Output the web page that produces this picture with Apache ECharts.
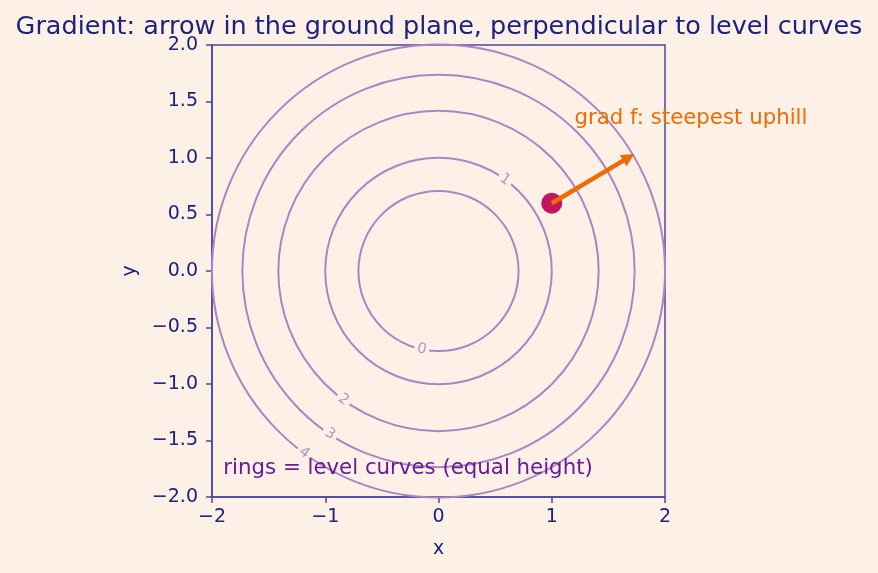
<!DOCTYPE html>
<html>
<head>
<meta charset="utf-8">
<script src="https://cdn.jsdelivr.net/npm/echarts@6/dist/echarts.min.js"></script>
<style>
  html, body { margin: 0; padding: 0; background: #fdf1e7; }
  #main { width: 878px; height: 573px; }
</style>
</head>
<body>
<div id="main"></div>
<script>
// level curves of f(x, y) = x^2 + y^2
const levels = [0.5, 1, 2, 3, 4];
const levelText = ['0', '1', '2', '3', '4'];
// where each inline label sits on its ring (degrees, counter-clockwise from +x)
const labelAngle = [258, 54, 233.6, 236.4, 233.6];

const point = [1, 0.6];
const arrowEnd = [1.72, 1.03];

const xTicks = [-2, -1, 0, 1, 2];
const yTicks = [-2.0, -1.5, -1.0, -0.5, 0.0, 0.5, 1.0, 1.5, 2.0];

const notes = [
	{ text: 'grad f: steepest uphill', at: [1.2, 1.3], color: '#ef6c00' },
	{ text: 'rings = level curves (equal height)', at: [-1.9, -1.8], color: '#6a1b9a' }
];

const bg = '#fdf1e7';
const navy = '#1a237e';
const spine = '#48489a';
const ring = '#ac84c6';
const font = 'DejaVu Sans';

function minus(v) {
	return String(v).replace('-', '\u2212');
}

const chart = echarts.init(document.getElementById('main'), null, { renderer: 'canvas' });

let ringLabels = levels.map(function (lv, i) {
	let r = Math.sqrt(lv);
	let a = labelAngle[i] * Math.PI / 180;
	let rot = labelAngle[i] - 90;
	while (rot > 90) rot -= 180;
	while (rot < -90) rot += 180;
	return {
		value: [r * Math.cos(a), r * Math.sin(a)],
		label: { formatter: levelText[i], rotate: rot }
	};
});

let option = {
	backgroundColor: bg,
	animation: false,
	title: {
		text: 'Gradient: arrow in the ground plane, perpendicular to level curves',
		left: 'center',
		top: 9,
		textStyle: { fontFamily: font, fontSize: 25.5, fontWeight: 'normal', color: navy }
	},
	grid: {
		left: 212, top: 45, width: 453, height: 452,
		show: true, borderColor: spine, borderWidth: 1.5, backgroundColor: 'transparent'
	},
	xAxis: {
		type: 'value', min: -2, max: 2, interval: 1,
		name: 'x', nameLocation: 'middle', nameGap: 43,
		nameTextStyle: { fontFamily: font, fontSize: 19, color: navy },
		axisLine: { show: true, onZero: false, lineStyle: { color: spine, width: 1.5 } },
		axisTick: { show: true, inside: false, length: 6, lineStyle: { color: spine, width: 1.5 } },
		axisLabel: {
			fontFamily: font, fontSize: 19, color: navy, margin: 11,
			formatter: function (v) { return xTicks.indexOf(v) >= 0 ? minus(v) : ''; }
		},
		splitLine: { show: false }
	},
	yAxis: {
		type: 'value', min: -2, max: 2, interval: 0.5,
		name: 'y', nameLocation: 'middle', nameGap: 72,
		nameTextStyle: { fontFamily: font, fontSize: 19, color: navy },
		axisLine: { show: true, onZero: false, lineStyle: { color: spine, width: 1.5 } },
		axisTick: { show: true, inside: false, length: 6, lineStyle: { color: spine, width: 1.5 } },
		axisLabel: {
			fontFamily: font, fontSize: 19, color: navy, margin: 14,
			formatter: function (v) { return yTicks.indexOf(v) >= 0 ? minus(v.toFixed(1)) : ''; }
		},
		splitLine: { show: false }
	},
	series: [
		{
			// the rings
			type: 'custom',
			silent: true,
			z: 2,
			data: levels.map(function (lv) { return [0, 0, lv]; }),
			encode: { x: 0, y: 1 },
			renderItem: function (params, api) {
				let c = api.coord([api.value(0), api.value(1)]);
				let r = api.size([Math.sqrt(api.value(2)), 0])[0];
				return {
					type: 'circle',
					shape: { cx: c[0], cy: c[1], r: r },
					style: { fill: 'none', stroke: ring, lineWidth: 2 }
				};
			}
		},
		{
			// inline contour labels, background hides the ring under them
			type: 'scatter',
			symbolSize: 0,
			silent: true,
			z: 3,
			itemStyle: { opacity: 1 },
			data: ringLabels,
			label: {
				show: true,
				position: 'inside',
				fontFamily: font,
				fontSize: 14.5,
				color: '#b095c6',
				backgroundColor: bg,
				padding: [0, 3]
			}
		},
		{
			type: 'scatter',
			symbol: 'circle',
			symbolSize: 21,
			z: 4,
			itemStyle: { color: '#c2185b', opacity: 1 },
			data: [point]
		},
		{
			type: 'lines',
			coordinateSystem: 'cartesian2d',
			z: 5,
			symbol: ['none', 'triangle'],
			symbolSize: [13, 13],
			lineStyle: { color: '#ef6c00', width: 4.5, opacity: 1 },
			data: [{ coords: [point, [arrowEnd[0] - 0.04, arrowEnd[1] - 0.024]] }]
		},
		{
			type: 'scatter',
			symbolSize: 0,
			silent: true,
			z: 6,
			itemStyle: { opacity: 1 },
			data: notes.map(function (n) {
				return {
					value: n.at,
					label: { formatter: n.text, color: n.color }
				};
			}),
			label: {
				show: true,
				position: [0, 0],
				align: 'left',
				verticalAlign: 'bottom',
				offset: [0, 5],
				fontFamily: font,
				fontSize: 21.3
			}
		}
	]
};

chart.setOption(option);
</script>
</body>
</html>
